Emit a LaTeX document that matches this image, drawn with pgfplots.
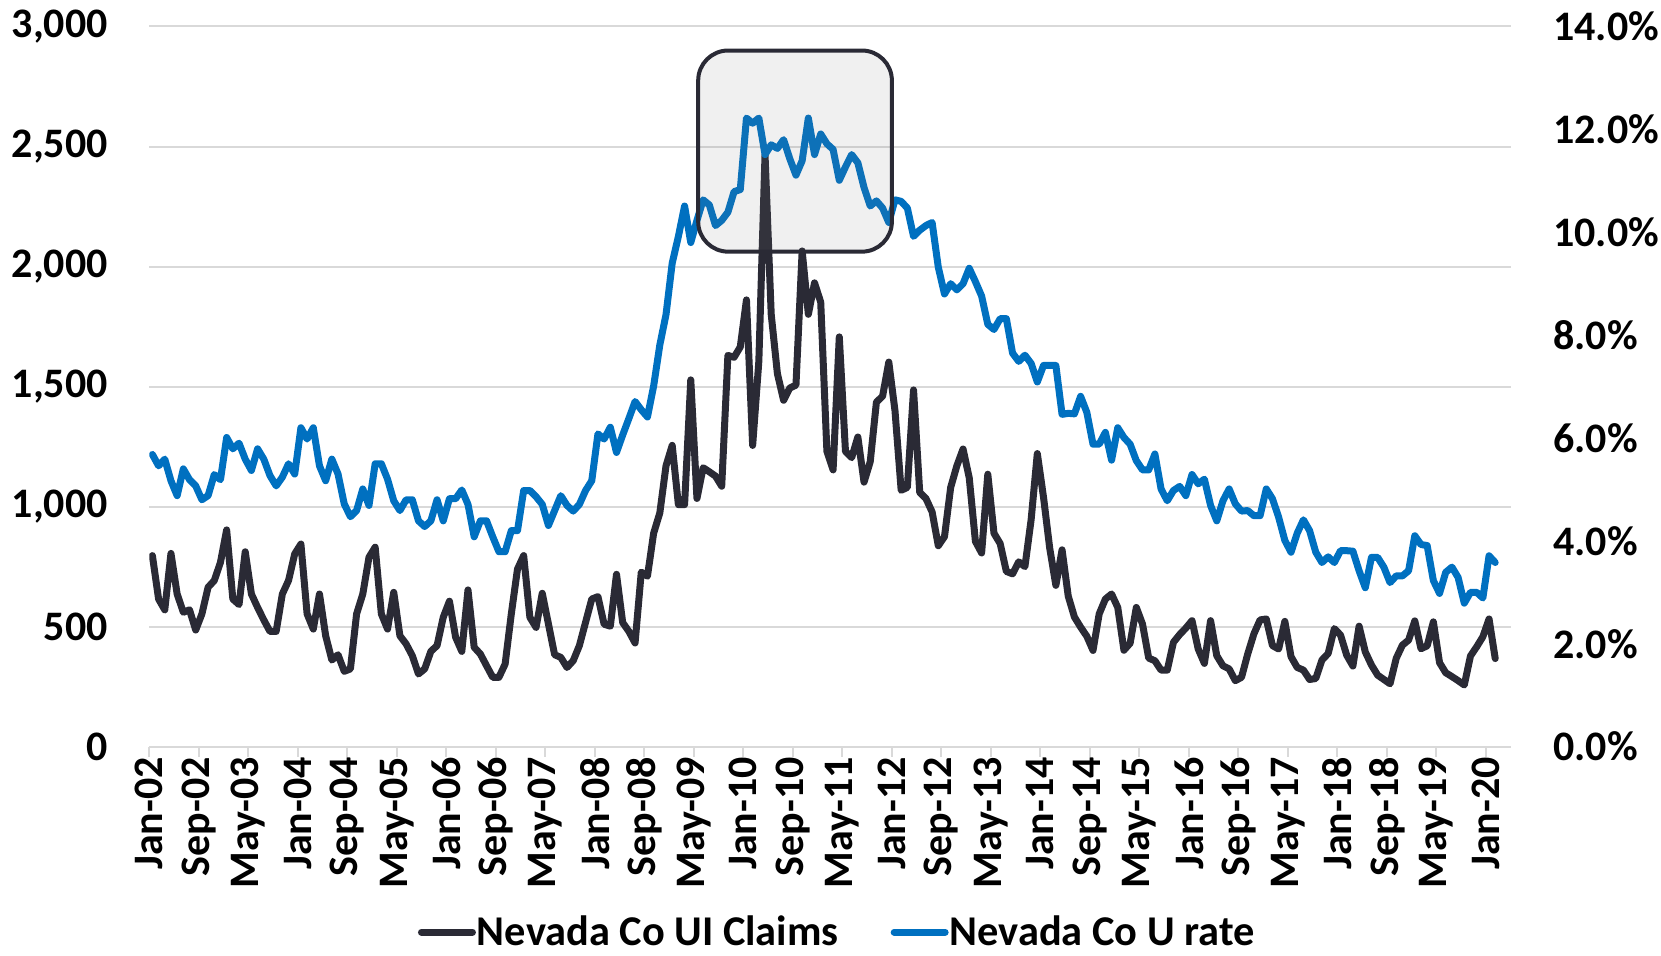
\documentclass[border=0pt]{standalone}
\usepackage{fontspec}
\setmainfont{Carlito}
\usepackage{pgfplots}
\pgfplotsset{compat=1.18}
\usepackage{pgfplotstable}
\definecolor{claims}{HTML}{2A2A35}
\definecolor{urate}{HTML}{0070C0}
\definecolor{gridc}{HTML}{D9D9D9}
\definecolor{boxshade}{HTML}{7A7A7A}
\pgfplotstableread{
k claims rate
0 796 5.68
1 615 5.46
2 570 5.59
3 805 5.17
4 636 4.88
5 560 5.40
6 570 5.19
7 486 5.07
8 553 4.80
9 664 4.88
10 692 5.29
11 768 5.19
12 903 6.01
13 615 5.79
14 592 5.90
15 812 5.59
16 636 5.37
17 580 5.79
18 528 5.59
19 480 5.27
20 480 5.07
21 636 5.24
22 692 5.50
23 803 5.30
24 844 6.20
25 553 5.98
26 490 6.20
27 636 5.46
28 462 5.17
29 361 5.59
30 383 5.30
31 314 4.72
32 324 4.47
33 553 4.59
34 636 5.01
35 789 4.69
36 831 5.50
37 553 5.50
38 490 5.20
39 643 4.78
40 462 4.59
41 428 4.80
42 379 4.80
43 303 4.39
44 324 4.28
45 397 4.39
46 421 4.80
47 539 4.39
48 606 4.82
49 456 4.82
50 397 4.99
51 653 4.71
52 414 4.08
53 386 4.39
54 337 4.39
55 289 4.08
56 289 3.79
57 344 3.79
58 553 4.20
59 740 4.20
60 796 4.98
61 539 4.98
62 497 4.86
63 639 4.71
64 511 4.30
65 383 4.59
66 372 4.88
67 330 4.69
68 358 4.58
69 421 4.71
70 518 4.98
71 615 5.17
72 625 6.08
73 510 5.98
74 502 6.21
75 718 5.72
76 517 6.06
77 480 6.38
78 432 6.71
79 727 6.55
80 710 6.41
81 889 7.01
82 974 7.81
83 1170 8.40
84 1255 9.40
85 1008 9.92
86 1008 10.51
87 1528 9.80
88 1034 10.23
89 1162 10.63
90 1145 10.53
91 1127 10.13
92 1085 10.23
93 1630 10.39
94 1622 10.79
95 1665 10.83
96 1861 12.22
97 1255 12.12
98 1605 12.22
99 2466 11.51
100 1801 11.70
101 1554 11.63
102 1443 11.80
103 1494 11.43
104 1506 11.11
105 2065 11.39
106 1801 12.22
107 1932 11.51
108 1852 11.91
109 1230 11.72
110 1153 11.61
111 1707 11.01
112 1230 11.27
113 1204 11.51
114 1290 11.35
115 1102 10.87
116 1187 10.51
117 1435 10.61
118 1460 10.47
119 1602 10.19
120 1400 10.63
121 1068 10.60
122 1080 10.47
123 1486 9.92
124 1059 10.04
125 1034 10.13
126 978 10.19
127 837 9.32
128 875 8.80
129 1080 9.00
130 1170 8.88
131 1240 9.00
132 1120 9.30
133 855 9.04
134 807 8.76
135 1135 8.21
136 889 8.11
137 846 8.32
138 730 8.32
139 720 7.65
140 770 7.49
141 750 7.61
142 945 7.45
143 1221 7.09
144 1040 7.41
145 828 7.41
146 672 7.41
147 820 6.46
148 627 6.48
149 540 6.47
150 498 6.81
151 460 6.50
152 401 5.88
153 553 5.88
154 615 6.11
155 636 5.57
156 580 6.20
157 402 6.01
158 431 5.88
159 580 5.56
160 511 5.38
161 369 5.38
162 358 5.69
163 319 5.01
164 319 4.78
165 435 4.98
166 467 5.06
167 494 4.88
168 525 5.29
169 407 5.11
170 347 5.20
171 525 4.69
172 379 4.39
173 337 4.78
174 324 5.01
175 275 4.72
176 289 4.58
177 386 4.59
178 470 4.49
179 528 4.49
180 532 5.01
181 421 4.82
182 407 4.46
183 522 4.01
184 375 3.78
185 330 4.15
186 319 4.41
187 280 4.20
188 284 3.78
189 361 3.58
190 388 3.69
191 492 3.58
192 465 3.81
193 381 3.81
194 336 3.80
195 502 3.42
196 395 3.09
197 340 3.68
198 298 3.68
199 280 3.49
200 262 3.19
201 368 3.32
202 423 3.32
203 444 3.42
204 524 4.10
205 408 3.93
206 420 3.91
207 520 3.23
208 350 2.98
209 308 3.39
210 292 3.49
211 275 3.29
212 257 2.79
213 378 3.00
214 416 3.00
215 458 2.89
216 532 3.71
217 367 3.58
}\datatable
\begin{document}
\begin{tikzpicture}[font=\fontsize{21}{25}\selectfont\bfseries]
\begin{axis}[
  at={(74.65pt,104.65pt)}, anchor=south west,
  scale only axis, width=680.7pt, height=360.1pt,
  xmin=-0.5, xmax=219.5, ymin=0, ymax=3000,
  axis line style={draw=none},
  ymajorgrids, grid style={gridc, line width=1pt},
  ytick={0,500,1000,1500,2000,2500,3000},
  scaled y ticks=false,
  /pgf/number format/assume math mode=true,
  /pgf/number format/1000 sep={,},
  yticklabel style={anchor=east, inner sep=0pt, xshift=-15.6pt},
  ytick style={draw=none},
  xtick={-0.5,7.5,15.5,23.5,31.5,39.5,47.5,55.5,63.5,71.5,79.5,87.5,95.5,103.5,111.5,119.5,127.5,135.5,143.5,151.5,159.5,167.5,175.5,183.5,191.5,199.5,207.5,215.5},
  xticklabels={Jan-02,Sep-02,May-03,Jan-04,Sep-04,May-05,Jan-06,Sep-06,May-07,Jan-08,Sep-08,May-09,Jan-10,Sep-10,May-11,Jan-12,Sep-12,May-13,Jan-14,Sep-14,May-15,Jan-16,Sep-16,May-17,Jan-18,Sep-18,May-19,Jan-20},
  xticklabel style={rotate=90, anchor=east, inner sep=0pt},
  xtick pos=left,
  tick align=outside,
  major tick length=5pt,
  xtick style={gridc, line width=1pt},
]
\addplot[claims, line width=3.5pt, line join=round, line cap=round] table[x=k, y=claims]{\datatable};
\end{axis}
\begin{axis}[
  at={(74.65pt,104.65pt)}, anchor=south west,
  scale only axis, width=680.7pt, height=360.1pt,
  xmin=-0.5, xmax=219.5, ymin=0, ymax=14,
  axis line style={draw=none},
  xtick=\empty,
  ytick={0,2,4,6,8,10,12,14},
  ytick pos=right,
  yticklabel pos=right,
  tick align=outside,
  major tick length=5pt,
  ytick style={draw=none},
  /pgf/number format/assume math mode=true,
  yticklabel={\pgfmathprintnumber[fixed,fixed zerofill,precision=1]{\tick}\%},
  yticklabel style={anchor=west, inner sep=0pt, xshift=16.1pt},
  legend columns=2,
  legend style={at={(0.505,-0.2575)}, anchor=center, draw=none, fill=none,
    inner sep=0pt, font=\fontsize{21.2}{25}\selectfont\bfseries,
    /tikz/every even column/.append style={column sep=25.5pt},
    nodes={inner sep=0.5pt}},
  legend image code/.code={\draw[#1, line width=3.5pt, line cap=round] (0pt,0pt) -- (25.5pt,0pt);},
]
\addlegendimage{claims}
\addlegendentry{Nevada Co UI Claims}
\addplot[urate, line width=3.5pt, line join=round, line cap=round] table[x=k, y=rate]{\datatable};
\addlegendentry{Nevada Co U rate}
\draw[rounded corners=15pt, fill=boxshade, fill opacity=0.113, draw=claims, line width=2pt] (axis cs:88.2,9.623) rectangle (axis cs:119.5,13.533);
\end{axis}
\pgfresetboundingbox
\path[use as bounding box] (0,0) rectangle (830.5pt,478pt);
\end{tikzpicture}
\end{document}
